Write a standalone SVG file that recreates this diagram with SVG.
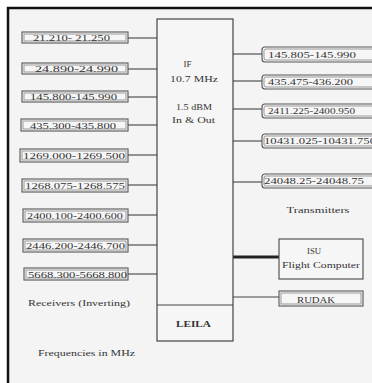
<svg xmlns="http://www.w3.org/2000/svg" width="372" height="383" viewBox="0 0 372 383">
<style>
.t{font-family:"Liberation Serif","Times New Roman",serif;font-size:9px;fill:#333}
.box{fill:#f6f6f6;stroke:#555;stroke-width:1.1}
.inner{fill:none;stroke:#999;stroke-width:1}
.line{stroke:#444;stroke-width:1.1;fill:none}
</style>
<rect x="0" y="0" width="372" height="383" fill="#ffffff"/>
<rect x="8" y="8" width="364" height="375" fill="#f4f4f4"/>
<line x1="8" y1="7" x2="8" y2="383" stroke="#111" stroke-width="2.5"/>
<line x1="7" y1="8" x2="372" y2="8" stroke="#111" stroke-width="2.5"/>

<g id="connectors">
<line class="line" x1="128" y1="38" x2="157" y2="38"/>
<line class="line" x1="128" y1="69" x2="157" y2="69"/>
<line class="line" x1="128" y1="97" x2="157" y2="97"/>
<line class="line" x1="128" y1="125" x2="157" y2="125"/>
<line class="line" x1="128" y1="155" x2="157" y2="155"/>
<line class="line" x1="128" y1="185" x2="157" y2="185"/>
<line class="line" x1="128" y1="215" x2="157" y2="215"/>
<line class="line" x1="128" y1="245" x2="157" y2="245"/>
<line class="line" x1="128" y1="274" x2="157" y2="274"/>
<line class="line" x1="233" y1="54" x2="262" y2="54"/>
<line class="line" x1="233" y1="81" x2="262" y2="81"/>
<line class="line" x1="233" y1="109" x2="262" y2="109"/>
<line class="line" x1="233" y1="141" x2="262" y2="141"/>
<line class="line" x1="233" y1="182" x2="262" y2="182"/>
<line x1="233" y1="257" x2="279" y2="257" stroke="#222" stroke-width="3"/>
<line class="line" x1="233" y1="297" x2="279" y2="297"/>
</g>

<g id="leila">
<rect x="157" y="19" width="76" height="322" fill="#f6f6f6" stroke="#444" stroke-width="1.2"/>
<line x1="157" y1="305" x2="233" y2="305" stroke="#444" stroke-width="1.2"/>
<text class="t" x="187.5" y="67" text-anchor="middle">IF</text>
<text class="t" x="194" y="82" text-anchor="middle" textLength="48" lengthAdjust="spacingAndGlyphs">10.7 MHz</text>
<text class="t" x="194" y="110" text-anchor="middle" textLength="36" lengthAdjust="spacingAndGlyphs">1.5 dBM</text>
<text class="t" x="193.5" y="123" text-anchor="middle" textLength="43" lengthAdjust="spacingAndGlyphs">In &amp; Out</text>
<text class="t" x="193.5" y="327" text-anchor="middle" textLength="35" lengthAdjust="spacingAndGlyphs" style="font-weight:bold">LEILA</text>
</g>

<g id="rx1"><rect class="box" x="22" y="32" width="106" height="11"/><rect class="inner" x="24" y="34" width="102" height="7"/><text class="t" x="33" y="41" textLength="77" lengthAdjust="spacingAndGlyphs">21.210- 21.250</text></g>
<g id="rx2"><rect class="box" x="22" y="63" width="106" height="11"/><rect class="inner" x="24" y="65" width="102" height="7"/><text class="t" x="35" y="72" textLength="83" lengthAdjust="spacingAndGlyphs">24.890-24.990</text></g>
<g id="rx3"><rect class="box" x="22" y="91" width="106" height="11"/><rect class="inner" x="24" y="93" width="102" height="7"/><text class="t" x="30" y="100" textLength="87" lengthAdjust="spacingAndGlyphs">145.800-145.990</text></g>
<g id="rx4"><rect class="box" x="21" y="119" width="107" height="12"/><rect class="inner" x="23" y="121" width="103" height="8"/><text class="t" x="30" y="128.5" textLength="86" lengthAdjust="spacingAndGlyphs">435.300-435.800</text></g>
<g id="rx5"><rect class="box" x="20" y="149" width="108" height="13"/><rect class="inner" x="22" y="151" width="104" height="9"/><text class="t" x="23" y="159" textLength="102" lengthAdjust="spacingAndGlyphs">1269.000-1269.500</text></g>
<g id="rx6"><rect class="box" x="22" y="179" width="106" height="13"/><rect class="inner" x="24" y="181" width="102" height="9"/><text class="t" x="25" y="189" textLength="100" lengthAdjust="spacingAndGlyphs">1268.075-1268.575</text></g>
<g id="rx7"><rect class="box" x="23" y="209" width="105" height="13"/><rect class="inner" x="25" y="211" width="101" height="9"/><text class="t" x="27" y="219" textLength="96" lengthAdjust="spacingAndGlyphs">2400.100-2400.600</text></g>
<g id="rx8"><rect class="box" x="23" y="239" width="105" height="13"/><rect class="inner" x="25" y="241" width="101" height="9"/><text class="t" x="26" y="249" textLength="99" lengthAdjust="spacingAndGlyphs">2446.200-2446.700</text></g>
<g id="rx9"><rect class="box" x="24" y="268" width="104" height="12"/><rect class="inner" x="26" y="270" width="100" height="8"/><text class="t" x="28" y="277.5" textLength="99" lengthAdjust="spacingAndGlyphs">5668.300-5668.800</text></g>

<g id="tx1"><rect class="box" x="262" y="47" width="120" height="15" rx="3"/><rect class="inner" x="264" y="49" width="116" height="11" rx="2"/><text class="t" x="268" y="57.5" textLength="88" lengthAdjust="spacingAndGlyphs">145.805-145.990</text></g>
<g id="tx2"><rect class="box" x="262" y="75" width="120" height="14" rx="3"/><rect class="inner" x="264" y="77" width="116" height="10" rx="2"/><text class="t" x="268" y="85" textLength="85" lengthAdjust="spacingAndGlyphs">435.475-436.200</text></g>
<g id="tx3"><rect class="box" x="262" y="104" width="120" height="14" rx="3"/><rect class="inner" x="264" y="106" width="116" height="10" rx="2"/><text class="t" x="268" y="114" textLength="87" lengthAdjust="spacingAndGlyphs">2411.225-2400.950</text></g>
<g id="tx4"><rect class="box" x="262" y="134" width="120" height="14" rx="3"/><rect class="inner" x="264" y="136" width="116" height="10" rx="2"/><text class="t" x="264" y="144" textLength="112" lengthAdjust="spacingAndGlyphs">10431.025-10431.750</text></g>
<g id="tx5"><rect class="box" x="262" y="174" width="120" height="14" rx="3"/><rect class="inner" x="264" y="176" width="116" height="10" rx="2"/><text class="t" x="264" y="184" textLength="100" lengthAdjust="spacingAndGlyphs">24048.25-24048.75</text></g>

<g id="isu"><rect x="279" y="239" width="84" height="40" fill="#f6f6f6" stroke="#555" stroke-width="1.2"/><text class="t" x="314" y="254" text-anchor="middle" textLength="14" lengthAdjust="spacingAndGlyphs">ISU</text><text class="t" x="321" y="268" text-anchor="middle" textLength="78" lengthAdjust="spacingAndGlyphs">Flight Computer</text></g>
<g id="rudak"><rect class="box" x="279" y="291" width="84" height="15"/><rect class="inner" x="281" y="293" width="80" height="11"/><text class="t" x="316" y="302.5" text-anchor="middle" textLength="38" lengthAdjust="spacingAndGlyphs">RUDAK</text></g>

<text class="t" x="318" y="213" text-anchor="middle" textLength="63" lengthAdjust="spacingAndGlyphs">Transmitters</text>
<text class="t" x="28" y="306" textLength="102" lengthAdjust="spacingAndGlyphs">Receivers (Inverting)</text>
<text class="t" x="38" y="356" textLength="97" lengthAdjust="spacingAndGlyphs">Frequencies in MHz</text>
</svg>
